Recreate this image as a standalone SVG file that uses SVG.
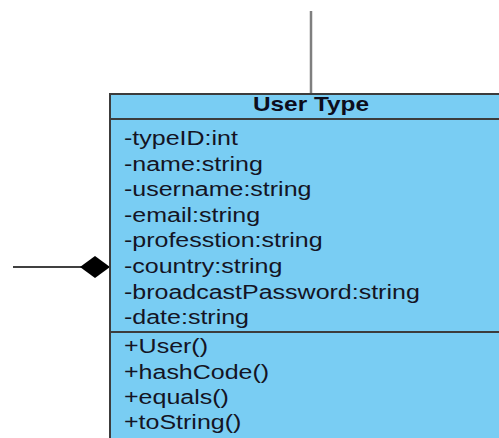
<svg xmlns="http://www.w3.org/2000/svg" width="499" height="438" viewBox="0 0 499 438">
  <style>
    .cls { fill: #79cdf3; stroke: #3c3c3c; stroke-width: 2; }
    .sep { stroke: #3c3c3c; stroke-width: 2; }
    .title { font-family: "Liberation Sans", Arial, sans-serif; font-size: 20px; font-weight: bold; fill: #0d0d1c; }
    .member { font-family: "Liberation Sans", Arial, sans-serif; font-size: 20px; fill: #141424; }
    .link { stroke: #7f7f7f; stroke-width: 2.5; fill: none; }
    .assoc { stroke: #000; stroke-width: 1.5; fill: none; }
  </style>
  <defs>
    <marker id="diamond" viewBox="0 0 30 22" refX="30" refY="11" markerWidth="30" markerHeight="22" markerUnits="userSpaceOnUse" orient="auto">
      <path d="M0,11 L15,0 L30,11 L15,22 Z" fill="#000"/>
    </marker>
  </defs>

  <g id="connectors">
    <line class="link" x1="311" y1="11" x2="311" y2="94"/>
    <line class="assoc" x1="13" y1="267" x2="110" y2="267" marker-end="url(#diamond)"/>
  </g>

  <g id="user-type">
    <rect class="cls" x="110" y="94" width="400" height="360"/>
    <line class="sep" x1="110" y1="119" x2="510" y2="119"/>
    <line class="sep" x1="110" y1="332" x2="510" y2="332"/>
    <text class="title" transform="translate(311,111) scale(1.22,1)" text-anchor="middle">User Type</text>
    <g class="member">
      <text transform="translate(124,145) scale(1.25,1)">-typeID:int</text>
      <text transform="translate(124,171) scale(1.25,1)">-name:string</text>
      <text transform="translate(124,196) scale(1.25,1)">-username:string</text>
      <text transform="translate(124,222) scale(1.25,1)">-email:string</text>
      <text transform="translate(124,247) scale(1.25,1)">-professtion:string</text>
      <text transform="translate(124,273) scale(1.25,1)">-country:string</text>
      <text transform="translate(124,299) scale(1.25,1)">-broadcastPassword:string</text>
      <text transform="translate(124,324) scale(1.25,1)">-date:string</text>
      <text transform="translate(124,353) scale(1.25,1)">+User()</text>
      <text transform="translate(124,379) scale(1.25,1)">+hashCode()</text>
      <text transform="translate(124,404) scale(1.25,1)">+equals()</text>
      <text transform="translate(124,429) scale(1.25,1)">+toString()</text>
    </g>
  </g>
</svg>
